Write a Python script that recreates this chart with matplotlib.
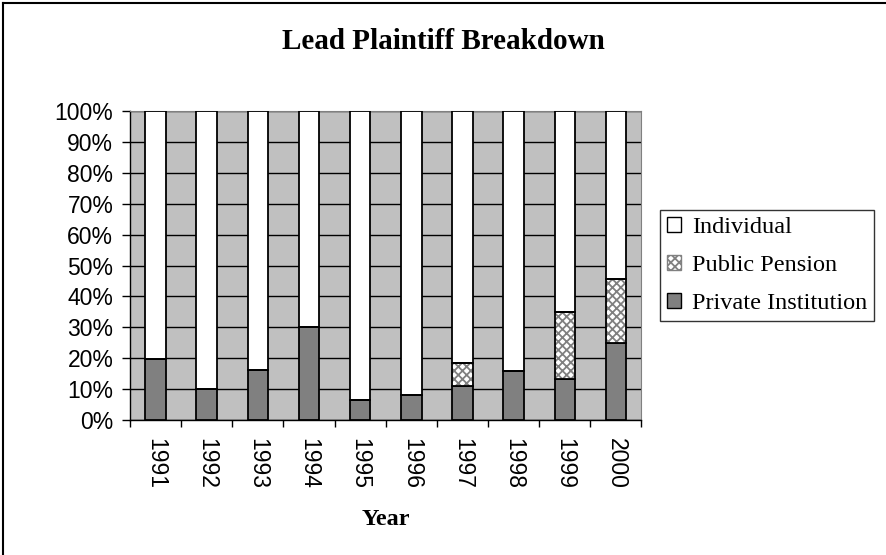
import numpy as np
import matplotlib
matplotlib.use("Agg")
import matplotlib.pyplot as plt
from matplotlib.patches import Rectangle
from matplotlib.lines import Line2D

years = ["1991", "1992", "1993", "1994", "1995", "1996", "1997", "1998", "1999", "2000"]
private_inst = [19.7, 10.0, 16.3, 30.0, 6.4, 8.0, 10.9, 15.9, 13.4, 25.0]
public_pension = [0, 0, 0, 0, 0, 0, 7.5, 0, 21.4, 20.5]
individual = [100 - a - b for a, b in zip(private_inst, public_pension)]

plt.rcParams["hatch.linewidth"] = 1.3

fig = plt.figure(figsize=(8.86, 5.55), dpi=100)
ax = fig.add_axes([0.1467, 0.2432, 0.5773, 0.5568])
ax.set_facecolor("#c0c0c0")

x = np.arange(len(years))
w = 0.4
ax.bar(x, private_inst, w, color="#808080", edgecolor="black", linewidth=1.3, zorder=3)
# checkered pension segment: hatch first, then black outline on top
ax.bar(x, public_pension, w, bottom=private_inst, color="white", edgecolor="#808080",
       hatch="xxxx", linewidth=0, zorder=3)
bot2 = [a + b for a, b in zip(private_inst, public_pension)]
ax.bar(x, public_pension, w, bottom=private_inst, fill=False, edgecolor="black",
       linewidth=1.3, zorder=4)
ax.bar(x, individual, w, bottom=bot2, color="white", edgecolor="black", linewidth=1.3, zorder=3)

ax.set_xlim(-0.5, len(years) - 0.5)
ax.set_ylim(0, 100)
ax.set_yticks(range(0, 101, 10))
ax.set_yticklabels([f"{v}%" for v in range(0, 101, 10)], fontsize=16.5, family="Liberation Sans")
ax.yaxis.grid(True, color="black", linewidth=1)
ax.set_axisbelow(True)

ax.set_xticks(x)
ax.set_xticklabels(years, rotation=-90, fontsize=16.5, family="Liberation Sans")
ax.tick_params(axis="x", length=0, pad=13)
ax.set_xticks(np.arange(-0.5, len(years)), minor=True)
ax.tick_params(axis="x", which="minor", length=5, width=1, color="black")
ax.tick_params(axis="y", length=6, width=1, pad=6)

for s in ["top", "right"]:
    ax.spines[s].set_color("#808080")
for s in ["left", "bottom"]:
    ax.spines[s].set_color("black")
    ax.spines[s].set_linewidth(1)

ax.set_xlabel("Year", fontsize=17.5, fontweight="bold", family="Liberation Serif", labelpad=14.5)
fig.text(0.5, 0.926, "Lead Plaintiff Breakdown", ha="center", va="center",
         fontsize=21, fontweight="bold", family="Liberation Serif")

handles = [
    Rectangle((0, 0), 1, 1, facecolor="white", edgecolor="black"),
    Rectangle((0, 0), 1, 1, facecolor="white", edgecolor="#808080", hatch="xxxx"),
    Rectangle((0, 0), 1, 1, facecolor="#808080", edgecolor="black"),
]
leg = fig.legend(handles, ["Individual", "Public Pension", "Private Institution"],
                 loc="upper left", bbox_to_anchor=(0.745, 0.622),
                 bbox_transform=fig.transFigure, borderaxespad=0,
                 prop={"family": "Liberation Serif", "size": 17.5},
                 frameon=True, fancybox=False, edgecolor="black",
                 handlelength=0.55, handleheight=0.55, handletextpad=0.45,
                 labelspacing=0.7, borderpad=0.3)
leg.get_frame().set_linewidth(1)

# outer chart frame (only top/left edges are inside the picture)
fig.add_artist(Line2D([0.0035, 0.0035], [0.0, 0.9945], transform=fig.transFigure,
                      color="black", linewidth=1.5))
fig.add_artist(Line2D([0.0035, 1.0], [0.9945, 0.9945], transform=fig.transFigure,
                      color="black", linewidth=1.5))

fig.savefig("out.png", dpi=100)
